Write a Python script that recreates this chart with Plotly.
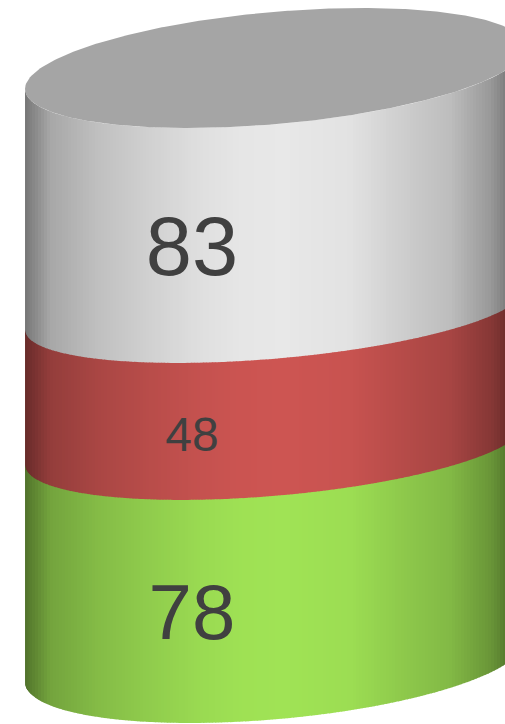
"""Stacked 3D-looking cylinder drawn with filled scatter strips."""

import numpy as np
import plotly.graph_objects as go

# data, bottom to top
labels = ["78", "48", "83"]
values = [78, 48, 83]
band_colors = [(160, 227, 85), (205, 85, 82), (232, 232, 232)]
top_color = (165, 165, 165)
text_color = "#404040"

# shading across the cylinder: x position in px and brightness
shade_x = [25, 30, 50, 100, 150, 200, 240, 283, 350, 400, 450, 490, 505]
shade_k = [0.50, 0.55, 0.72, 0.83, 0.90, 0.96, 0.99, 1.0, 0.975, 0.89, 0.815, 0.66, 0.55]

# ring look, one entry per ring from the bottom: half height and vertical nudge in px
ring_depth = [58.3, 51.9, 49.7, 56.2]
ring_nudge = [-2, 3, 4.7, 0]
label_nudge = [0, 3, 1]

WIDTH, HEIGHT = 505, 724
UNIT = 2.847  # px per value
BASE_PX = 663  # pixel row of value 0 at the cylinder axis
CX, RX = 275, 250
SLOPE = 0.084 / UNIT

totals = np.cumsum([0] + values)


def curve(x, ring, side=1):
    """Edge of a ring of the stack, side=1 for the front, -1 for the back."""
    u = np.clip((x - CX) / RX, -1, 1)
    return (totals[ring] - ring_nudge[ring] / UNIT + SLOPE * (x - CX)
            - side * ring_depth[ring] / UNIT * np.sqrt(1 - u ** 2))


def to_rgb(color, k):
    return "rgb({},{},{})".format(*[int(round(c * k)) for c in color])


def strip(x0, x1, i, color):
    xs = [x0, x1, x1, x0, x0]
    lap = 1.0 if i > 0 else 0
    ys = [curve(x0, i + 1), curve(x1, i + 1), curve(x1, i) - lap, curve(x0, i) - lap, curve(x0, i + 1)]
    return go.Scatter(x=xs, y=ys, mode="lines", fill="toself", fillcolor=color,
                      line=dict(width=0), hoverinfo="skip", showlegend=False)


fig = go.Figure()
edges = np.concatenate([[25, 25.25, 25.5, 26, 26.5, 27, 28, 29, 30, 32], np.arange(35, 509, 3)])

# top band first so that every lower band paints over the seam
for i in reversed(range(len(values))):
    for x0, x1 in zip(edges[:-1], edges[1:]):
        k = np.interp((x0 + x1) / 2, shade_x, shade_k)
        fig.add_trace(strip(float(x0), float(x1) + 0.5, i, to_rgb(band_colors[i], k)))

# lid
ring = np.concatenate([[25, 25.25, 25.5, 26, 27, 28, 30], np.linspace(32, CX + RX, 240)])
lid = len(values)
fig.add_trace(go.Scatter(
    x=np.concatenate([ring, ring[::-1]]),
    y=np.concatenate([curve(ring, lid), curve(ring[::-1], lid, -1)]),
    mode="lines", fill="toself", fillcolor=to_rgb(top_color, 1), line=dict(width=0),
    hoverinfo="skip", showlegend=False))

# labels sit on the front of each band, font size follows the value
for i, label in enumerate(labels):
    mid = (curve(192.0, i) + curve(192.0, i + 1)) / 2 - (0.1 * values[i] + label_nudge[i]) / UNIT
    fig.add_trace(go.Scatter(
        x=[192], y=[mid], mode="text", text=[label],
        textposition="middle center",
        textfont=dict(family="Liberation Sans, Arial, sans-serif", size=values[i], color=text_color),
        hoverinfo="skip", showlegend=False))

fig.update_layout(
    width=WIDTH, height=HEIGHT, margin=dict(l=0, r=0, t=0, b=0),
    paper_bgcolor="white", plot_bgcolor="white", showlegend=False,
    xaxis=dict(visible=False, range=[0, WIDTH], fixedrange=True),
    yaxis=dict(visible=False, range=[(BASE_PX - HEIGHT) / UNIT, BASE_PX / UNIT], fixedrange=True),
)
fig.write_html("out.html", config={"displayModeBar": False},
               post_script="document.body.style.margin='0';document.body.style.overflow='hidden';")
